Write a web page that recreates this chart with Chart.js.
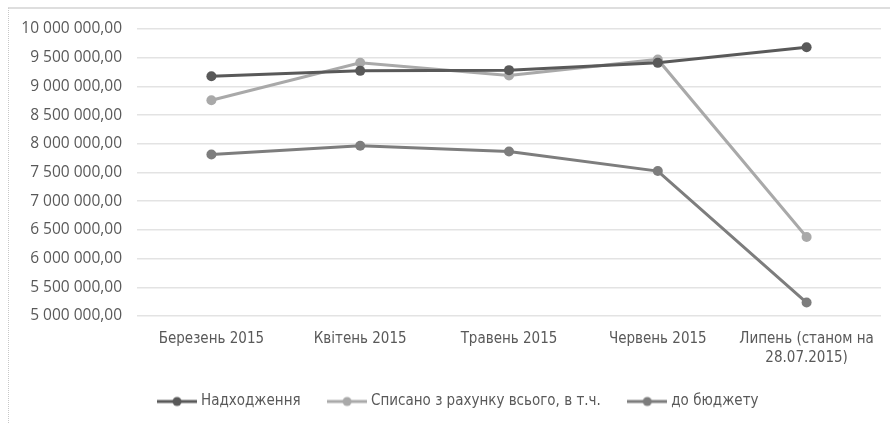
<!DOCTYPE html>
<html>
<head>
<meta charset="utf-8">
<script src="https://cdn.jsdelivr.net/npm/chart.js@4/dist/chart.umd.min.js"></script>
<style>
  html, body { margin: 0; padding: 0; background: #fff; }
  #wrap { position: relative; width: 890px; height: 423px; }
  #frame { position: absolute; left: 8px; top: 7px; width: 890px; height: 430px;
           border-top: 2px solid #dedede; border-left: 1px dotted #c8c8c8; pointer-events: none; }
  canvas { display: block; }
</style>
</head>
<body>
<div id="wrap">
  <canvas id="chart" width="890" height="423"></canvas>
  <div id="frame"></div>
</div>
<script>
// Months of 2015 (last one is a partial month)
const categories = [
  'Березень 2015',
  'Квітень 2015',
  'Травень 2015',
  'Червень 2015',
  ['Липень (станом на', '28.07.2015)']
];

// Amounts, UAH
const receipts   = [9178000, 9271000, 9283000, 9410000, 9683000]; // Надходження
const writtenOff = [8759000, 9411000, 9190000, 9470000, 6375000]; // Списано з рахунку всього, в т.ч.
const toBudget   = [7815000, 7967000, 7867000, 7525000, 5235000]; // до бюджету

const seriesNames = ['Надходження', 'Списано з рахунку всього, в т.ч.', 'до бюджету'];
const seriesColors = ['#595959', '#a9a9a9', '#7d7d7d'];

const narrowFont = '"Liberation Sans Narrow", "DejaVu Sans Condensed", "Arial Narrow", sans-serif';

// Legend swatch: short line with a dot in the middle
function swatch(color) {
  const c = document.createElement('canvas');
  c.width = 40; c.height = 12;
  const g = c.getContext('2d');
  g.strokeStyle = color; g.lineWidth = 3;
  g.beginPath(); g.moveTo(0, 6); g.lineTo(40, 6); g.stroke();
  g.fillStyle = color;
  g.beginPath(); g.arc(20, 6, 4.5, 0, Math.PI * 2); g.fill();
  return c;
}

function fmt(v) {
  const s = Math.round(v).toString().replace(/\B(?=(\d{3})+(?!\d))/g, '\u00a0');
  return s + ',00';
}

const values = [receipts, writtenOff, toBudget];
const datasets = values.map((d, i) => ({
  label: seriesNames[i],
  data: d,
  borderColor: seriesColors[i],
  backgroundColor: seriesColors[i],
  borderWidth: 3,
  pointRadius: 5,
  pointHoverRadius: 5,
  pointBorderWidth: 0,
  pointStyle: 'circle',
  tension: 0,
  order: i
}));

// Shift legend horizontally after layout
const legendShift = {
  id: 'legendShift',
  afterLayout(chart) {
    if (chart.legend) { chart.legend.left += 19; chart.legend.right += 19; }
  }
};

new Chart(document.getElementById('chart'), {
  type: 'line',
  data: { labels: categories, datasets },
  plugins: [legendShift],
  options: {
    responsive: false,
    animation: false,
    layout: { padding: { top: 29, right: 9, left: 0, bottom: 4 } },
    plugins: {
      tooltip: { enabled: false },
      legend: {
        position: 'bottom',
        labels: {
          color: '#595959',
          font: { family: narrowFont, size: 15 },
          usePointStyle: true,
          pointStyleWidth: 33,
          boxHeight: 12,
          padding: 30,
          generateLabels(chart) {
            return chart.data.datasets.map((ds, i) => ({
              text: ds.label,
              fontColor: '#595959',
              pointStyle: swatch(ds.borderColor),
              fillStyle: ds.borderColor,
              strokeStyle: ds.borderColor,
              lineWidth: 0,
              hidden: false,
              datasetIndex: i
            }));
          }
        }
      }
    },
    scales: {
      x: {
        offset: true,
        grid: { display: false },
        border: { display: false },
        ticks: {
          color: '#595959',
          font: { family: narrowFont, size: 15, lineHeight: 1.3 },
          padding: 5,
          maxRotation: 0,
          autoSkip: false
        },
        afterFit(scale) { scale.height = 48; }
      },
      y: {
        min: 5000000,
        max: 10000000,
        grid: { color: '#e3e3e3', lineWidth: 1.5, drawTicks: false },
        border: { display: false },
        ticks: {
          stepSize: 500000,
          color: '#595959',
          font: { family: '"Open Sans", sans-serif', size: 15.5 },
          padding: 15,
          callback: v => fmt(v)
        },
        afterFit(scale) { scale.width = 137; }
      }
    }
  }
});
</script>
</body>
</html>
